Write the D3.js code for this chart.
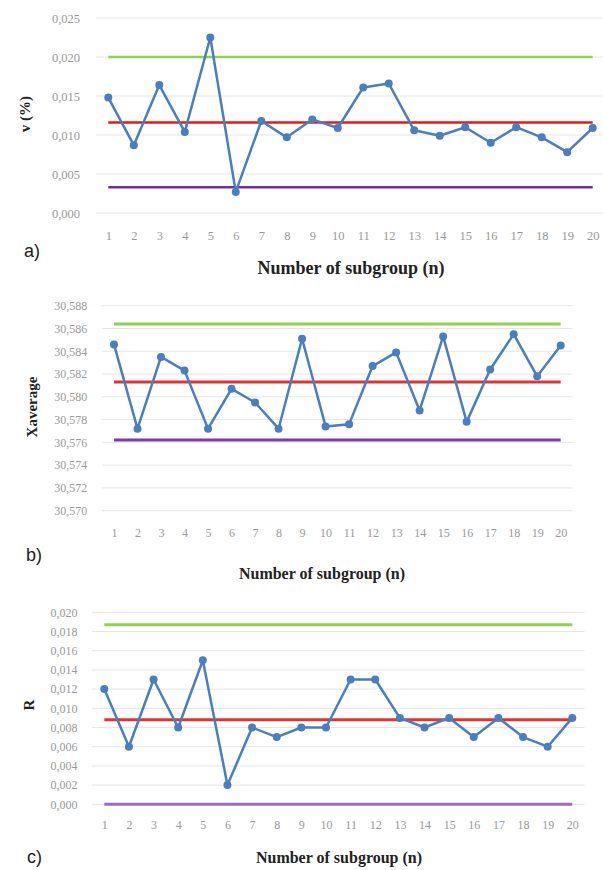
<!DOCTYPE html>
<html>
<head>
<meta charset="utf-8">
<script src="https://cdn.jsdelivr.net/npm/d3@7"></script>
<style>
  body { margin: 0; background: #fff; }
  svg { display: block; }
</style>
</head>
<body>
<div id="chart"></div>
<script>
// ----- dados -----
var subgroups = d3.range(1, 21);

// a) coeficiente de variação v (%)
var vValues = [0.0148, 0.0087, 0.0164, 0.0104, 0.0225, 0.0027, 0.0118, 0.0097, 0.0120, 0.0109,
               0.0161, 0.0166, 0.0106, 0.0099, 0.0110, 0.0090, 0.0110, 0.0097, 0.0078, 0.0109];
var vLimits = [0.0200, 0.0116, 0.0033];   // UCL, CL, LCL
var vTicks = [0, 0.005, 0.010, 0.015, 0.020, 0.025];

// b) média
var xValues = [30.5846, 30.5772, 30.5835, 30.5823, 30.5772, 30.5807, 30.5795, 30.5772, 30.5851, 30.5774,
               30.5776, 30.5827, 30.5839, 30.5788, 30.5853, 30.5778, 30.5824, 30.5855, 30.5818, 30.5845];
var xLimits = [30.5864, 30.5813, 30.5762];
var xTicks = [30.570, 30.572, 30.574, 30.576, 30.578, 30.580, 30.582, 30.584, 30.586, 30.588];

// c) amplitude R
var rValues = [0.012, 0.006, 0.013, 0.008, 0.015, 0.002, 0.008, 0.007, 0.008, 0.008,
               0.013, 0.013, 0.009, 0.008, 0.009, 0.007, 0.009, 0.007, 0.006, 0.009];
var rLimits = [0.0187, 0.0088, 0.0];
var rTicks = [0, 0.002, 0.004, 0.006, 0.008, 0.010, 0.012, 0.014, 0.016, 0.018, 0.020];

var lineColor = "#4a7ebf";

var locale = d3.formatLocale({decimal: ",", thousands: ".", grouping: [3], currency: ["", ""]});
var fmt = locale.format(".3f");

var svg = d3.select("#chart").append("svg")
  .attr("width", 603)
  .attr("height", 870);

svg.append("rect").attr("width", 603).attr("height", 870).attr("fill", "#fff");

function drawPanel(values, limits, ticks, p) {
  var g = svg.append("g");

  var x = d3.scalePoint()
    .domain(subgroups)
    .range([p.x0, p.x1]);
  var half = x.step() / 2;

  var y = d3.scaleLinear()
    .domain([ticks[0], ticks[ticks.length - 1]])
    .range([p.yBottom, p.yTop]);

  // linhas de grade
  g.selectAll("line.grid")
    .data(ticks)
    .enter().append("line")
      .attr("x1", p.x0 - half)
      .attr("x2", p.x1 + half)
      .attr("y1", function(d) { return y(d); })
      .attr("y2", function(d) { return y(d); })
      .attr("stroke", "#e6e6e6")
      .attr("stroke-width", 1);

  // eixo y
  var yAxis = g.append("g")
    .attr("transform", "translate(" + (p.x0 - half) + ",0)")
    .call(d3.axisLeft(y).tickValues(ticks).tickFormat(fmt).tickSize(0).tickPadding(p.yPad));
  yAxis.select(".domain").remove();
  yAxis.selectAll("text")
    .attr("fill", "#999")
    .style("font-family", "'Liberation Serif', 'Times New Roman', serif")
    .style("font-size", p.tickSize + "px");

  // eixo x
  var xAxis = g.append("g")
    .attr("transform", "translate(0," + p.yBottom + ")")
    .call(d3.axisBottom(x).tickSize(0).tickPadding(p.xPad));
  xAxis.select(".domain").remove();
  xAxis.selectAll("text")
    .attr("fill", "#999")
    .style("font-family", "'Liberation Serif', 'Times New Roman', serif")
    .style("font-size", p.tickSize + "px");

  // limites de controle
  g.selectAll("line.limit")
    .data(limits)
    .enter().append("line")
      .attr("x1", x(1))
      .attr("x2", x(20))
      .attr("y1", function(d) { return y(d); })
      .attr("y2", function(d) { return y(d); })
      .attr("stroke", function(d, i) { return p.colors[i]; })
      .attr("stroke-width", p.limitWidth);

  // série
  var line = d3.line()
    .x(function(d, i) { return x(subgroups[i]); })
    .y(function(d) { return y(d); });

  g.append("path")
    .datum(values)
    .attr("d", line)
    .attr("fill", "none")
    .attr("stroke", lineColor)
    .attr("stroke-width", 2.5)
    .attr("stroke-linejoin", "round");

  g.selectAll("circle")
    .data(values)
    .enter().append("circle")
      .attr("cx", function(d, i) { return x(subgroups[i]); })
      .attr("cy", function(d) { return y(d); })
      .attr("r", 4)
      .attr("fill", lineColor);

  // títulos
  g.append("text")
    .attr("transform", "translate(" + p.yTitleX + "," + p.yTitleY + ") rotate(-90)")
    .attr("text-anchor", "middle")
    .attr("dominant-baseline", "central")
    .style("font-family", "'Liberation Serif', 'Times New Roman', serif")
    .style("font-weight", "bold")
    .style("font-size", p.yTitleSize + "px")
    .attr("fill", "#222")
    .text(p.yTitle);

  g.append("text")
    .attr("x", p.xTitleX)
    .attr("y", p.xTitleY)
    .attr("text-anchor", "middle")
    .attr("dominant-baseline", "central")
    .style("font-family", "'Liberation Serif', 'Times New Roman', serif")
    .style("font-weight", "bold")
    .style("font-size", p.xTitleSize + "px")
    .attr("fill", "#222")
    .text("Number of subgroup (n)");

  g.append("text")
    .attr("x", p.tagX)
    .attr("y", p.tagY)
    .attr("dominant-baseline", "central")
    .style("font-family", "'Liberation Sans', Arial, sans-serif")
    .style("font-size", "18px")
    .attr("fill", "#1a1a1a")
    .text(p.tag);
}

drawPanel(vValues, vLimits, vTicks, {
  x0: 108.3, x1: 592.7, yTop: 18, yBottom: 213,
  yPad: 15.5, xPad: 18, tickSize: 12.5, limitWidth: 2.5,
  colors: ["#92d050", "#e01b1b", "#7030a0"],
  yTitle: "v (%)", yTitleX: 25, yTitleY: 114, yTitleSize: 15,
  xTitleX: 351, xTitleY: 268, xTitleSize: 18,
  tag: "a)", tagX: 24, tagY: 251
});

drawPanel(xValues, xLimits, xTicks, {
  x0: 114, x1: 560.7, yTop: 305.7, yBottom: 510.7,
  yPad: 15, xPad: 18, tickSize: 12, limitWidth: 3,
  colors: ["#92d050", "#e03434", "#7a3aa8"],
  yTitle: "Xaverage", yTitleX: 32, yTitleY: 407, yTitleSize: 15,
  xTitleX: 322, xTitleY: 573, xTitleSize: 16,
  tag: "b)", tagX: 26, tagY: 555
});

drawPanel(rValues, rLimits, rTicks, {
  x0: 104.3, x1: 572.3, yTop: 612.3, yBottom: 804.3,
  yPad: 14.5, xPad: 16, tickSize: 12, limitWidth: 3,
  colors: ["#92d050", "#e03434", "#9b6bcc"],
  yTitle: "R", yTitleX: 29, yTitleY: 705, yTitleSize: 15,
  xTitleX: 339, xTitleY: 857, xTitleSize: 16,
  tag: "c)", tagX: 27, tagY: 857
});
</script>
</body>
</html>
